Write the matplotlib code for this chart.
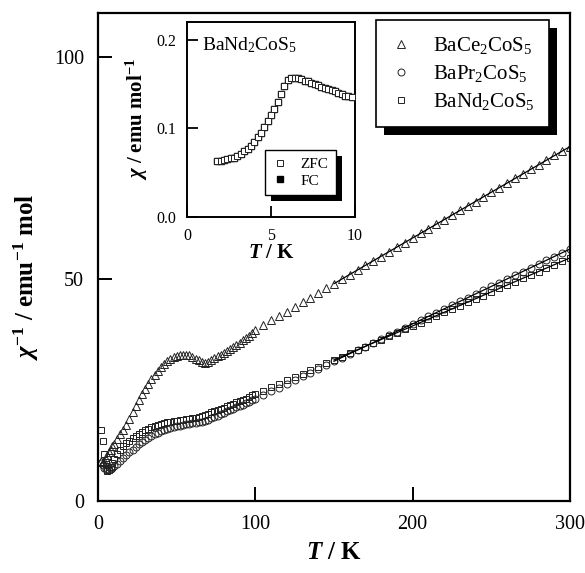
import matplotlib.pyplot as plt
from matplotlib.patches import Rectangle
from matplotlib.transforms import IdentityTransform

plt.rcParams['font.family'] = ['Liberation Serif', 'DejaVu Serif']
plt.rcParams['mathtext.fontset'] = 'custom'
plt.rcParams['mathtext.rm'] = 'Liberation Serif'
plt.rcParams['mathtext.it'] = 'Liberation Serif:italic'
plt.rcParams['mathtext.bf'] = 'Liberation Serif:bold'
plt.rcParams['mathtext.bfit'] = 'Liberation Serif:italic:bold'

# temperatures (K) of the inverse susceptibility runs
temps = [2, 3, 4, 5, 6, 7, 8, 9, 10,
         12, 14, 16, 18, 20, 22, 24, 26, 28, 30,
         32, 34, 36, 38, 40, 42, 44, 46, 48, 50,
         52, 54, 56, 58, 60, 62, 64, 66, 68, 70,
         72, 74, 76, 78, 80, 82, 84, 86, 88, 90,
         92, 94, 96, 98,
         100, 105, 110, 115, 120, 125, 130, 135, 140, 145,
         150, 155, 160, 165, 170, 175, 180, 185, 190, 195,
         200, 205, 210, 215, 220, 225, 230, 235, 240, 245,
         250, 255, 260, 265, 270, 275, 280, 285, 290, 295, 300]

# 1/chi (emu^-1 mol)
inv_chi_ce = [9.0, 8.7, 8.9, 9.5, 10.3, 11.0, 11.6, 12.3, 12.9,
              14.0, 15.0, 16.0, 17.1, 18.5, 20.0, 21.5, 22.8, 24.1, 25.3,
              26.4, 27.5, 28.5, 29.4, 30.2, 30.9, 31.5, 32.0, 32.4, 32.7,
              32.9, 33.0, 33.0, 32.8, 32.5, 32.1, 31.7, 31.4, 31.2, 31.4,
              31.8, 32.2, 32.6, 33.0, 33.4, 33.9, 34.3, 34.8, 35.2, 35.7,
              36.2, 36.7, 37.2, 37.8,
              38.6, 39.6, 40.7, 41.7, 42.7, 43.8, 44.8, 45.8, 46.9, 47.9,
              49.0, 50.0, 51.0, 52.0, 53.1, 54.1, 55.1, 56.2, 57.2, 58.2,
              59.3, 60.3, 61.3, 62.4, 63.4, 64.4, 65.5, 66.5, 67.5, 68.6,
              69.6, 70.6, 71.7, 72.7, 73.7, 74.8, 75.8, 76.8, 77.9, 78.9, 79.9]
inv_chi_pr = [8.6, 8.0, 7.5, 7.2, 7.0, 7.0, 7.2, 7.5, 7.8,
              8.4, 9.0, 9.6, 10.3, 11.0, 11.6, 12.2, 12.8, 13.3, 13.8,
              14.2, 14.6, 15.0, 15.4, 15.7, 16.0, 16.2, 16.4, 16.6, 16.8,
              17.0, 17.2, 17.3, 17.4, 17.5, 17.6, 17.7, 17.8, 18.0, 18.3,
              18.6, 18.9, 19.2, 19.5, 19.9, 20.2, 20.5, 20.8, 21.1, 21.4,
              21.7, 22.0, 22.4, 22.7,
              23.0, 23.8, 24.7, 25.5, 26.4, 27.2, 28.1, 28.9, 29.8, 30.6,
              31.5, 32.3, 33.1, 34.0, 34.8, 35.7, 36.5, 37.4, 38.2, 39.1,
              39.9, 40.7, 41.6, 42.4, 43.3, 44.1, 45.0, 45.8, 46.7, 47.5,
              48.4, 49.2, 50.0, 50.9, 51.7, 52.6, 53.4, 54.3, 55.1, 56.0, 56.8]
inv_chi_nd = [16.0, 13.5, 10.5, 8.3, 6.8, 6.9, 7.6, 8.5, 9.4,
              10.6, 11.5, 12.3, 13.0, 13.6, 14.2, 14.7, 15.2, 15.6, 16.0,
              16.3, 16.6, 16.9, 17.1, 17.3, 17.5, 17.7, 17.8, 18.0, 18.1,
              18.2, 18.3, 18.4, 18.5, 18.6, 18.7, 18.9, 19.1, 19.4, 19.7,
              20.0, 20.2, 20.4, 20.7, 21.0, 21.3, 21.6, 21.9, 22.2, 22.5,
              22.8, 23.1, 23.5, 23.8,
              24.1, 24.9, 25.6, 26.4, 27.2, 27.9, 28.7, 29.5, 30.2, 31.0,
              31.8, 32.5, 33.3, 34.1, 34.8, 35.6, 36.4, 37.1, 37.9, 38.7,
              39.4, 40.2, 41.0, 41.7, 42.5, 43.3, 44.0, 44.8, 45.6, 46.3,
              47.1, 47.9, 48.6, 49.4, 50.2, 50.9, 51.7, 52.5, 53.2, 54.0, 54.8]

# Curie-Weiss fits over the high temperature range
fit_temps = [150, 300]
fit_ce = [49.0, 79.9]
fit_pr = [31.5, 56.8]
fit_nd = [31.8, 54.8]

# low temperature chi of BaNd2CoS5 (emu/mol)
low_temps = [1.8, 2.0, 2.2, 2.4, 2.6, 2.8, 3.0, 3.2, 3.4, 3.6,
             3.8, 4.0, 4.2, 4.4, 4.6, 4.8, 5.0, 5.2, 5.4, 5.6,
             5.8, 6.0, 6.2, 6.4, 6.6, 6.8, 7.0, 7.2, 7.4, 7.6,
             7.8, 8.0, 8.2, 8.4, 8.6, 8.8, 9.0, 9.2, 9.4, 9.6, 9.8]
chi_zfc = [0.063, 0.063, 0.064, 0.065, 0.066, 0.067, 0.069, 0.071, 0.074, 0.077,
           0.080, 0.085, 0.090, 0.095, 0.101, 0.108, 0.115, 0.122, 0.130, 0.139,
           0.148, 0.155, 0.157, 0.157, 0.157, 0.156, 0.154, 0.153, 0.151, 0.150,
           0.149, 0.147, 0.146, 0.144, 0.143, 0.142, 0.140, 0.139, 0.137, 0.136, 0.135]
chi_fc = list(chi_zfc)  # FC and ZFC coincide

fig = plt.figure(figsize=(5.85, 5.73), dpi=100)
ax = fig.add_axes([0.1675, 0.1257, 0.8069, 0.8516])

mk = dict(linestyle='none', mfc='none', mec='#222222', mew=0.7)
ax.plot(temps, inv_chi_ce, marker='^', ms=5.5, label='BaCe$_2$CoS$_5$', **mk)
ax.plot(temps, inv_chi_pr, marker='o', ms=5.0, label='BaPr$_2$CoS$_5$', **mk)
ax.plot(temps, inv_chi_nd, marker='s', ms=4.6, label='BaNd$_2$CoS$_5$', **mk)
for fit in (fit_ce, fit_pr, fit_nd):
    ax.plot(fit_temps, fit, color='black', lw=0.9)

ax.set_xlim(0, 300)
ax.set_ylim(0, 110)
ax.set_xticks([0, 100, 200, 300])
ax.set_yticks([0, 50, 100])
ax.tick_params(direction='in', length=10, width=1.4, labelsize=14.5, pad=10)
for sp in ax.spines.values():
    sp.set_linewidth(1.6)
ax.set_xlabel(r'$\mathbfit{T}\mathbf{\ /\ K}$', fontsize=18, labelpad=6)
ax.set_ylabel(r'$\mathbfit{\chi}^{\mathbf{-1}}\mathbf{\ /\ emu^{-1}\ mol}$', fontsize=18)
ax.yaxis.set_label_coords(-0.12, 0.46)

leg = ax.legend(loc='upper left', bbox_to_anchor=(0.59, 0.985), fontsize=15,
                frameon=True, fancybox=False, framealpha=1, edgecolor='black',
                handlelength=1.0, handletextpad=1.0, labelspacing=0.35,
                borderpad=0.7, borderaxespad=0)
leg.get_frame().set_linewidth(1.2)

# inset: chi(T) of BaNd2CoS5
ins = fig.add_axes([0.3197, 0.6213, 0.2872, 0.3403])
ins.plot(low_temps, chi_fc, marker='s', ms=4.6, linestyle='none', color='black',
         label='FC', zorder=2)
ins.plot(low_temps, chi_zfc, marker='s', ms=4.6, linestyle='none', mfc='white',
         mec='#222222', mew=0.7, label='ZFC', zorder=3)
ins.set_xlim(0, 10)
ins.set_ylim(0, 0.22)
ins.set_xticks([0, 5, 10])
ins.set_yticks([0.0, 0.1, 0.2])
ins.set_yticklabels(['0.0', '0.1', '0.2'])
ins.tick_params(direction='in', length=8, width=1.3, labelsize=11.5, pad=8)
for sp in ins.spines.values():
    sp.set_linewidth(1.4)
ins.set_xlabel(r'$\mathbfit{T}\mathbf{\ /\ K}$', fontsize=15, labelpad=0)
ins.set_ylabel(r'$\mathbfit{\chi}\mathbf{\ /\ emu\ mol^{-1}}$', fontsize=15, labelpad=4)
ins.text(0.09, 0.93, 'BaNd$_2$CoS$_5$', transform=ins.transAxes, fontsize=14,
         va='top', ha='left')
handles, labels = ins.get_legend_handles_labels()
ileg = ins.legend(handles[::-1], labels[::-1], loc='upper left',
                  bbox_to_anchor=(0.465, 0.345), fontsize=11, frameon=True,
                  fancybox=False, framealpha=1, edgecolor='black',
                  handlelength=1.0, handletextpad=0.8, labelspacing=0.2,
                  borderpad=0.5, borderaxespad=0)
ileg.get_frame().set_linewidth(1.0)


def drop_shadow(axes, legend, offset):
    fig.canvas.draw()
    bb = legend.get_frame().get_window_extent()
    axes.add_patch(Rectangle((bb.x0 + offset, bb.y0 - offset), bb.width, bb.height,
                             transform=IdentityTransform(), facecolor='black',
                             edgecolor='none', zorder=legend.get_zorder() - 0.1,
                             clip_on=False))


drop_shadow(ax, leg, 8)
drop_shadow(ins, ileg, 6)

fig.savefig('out.png', dpi=100)
